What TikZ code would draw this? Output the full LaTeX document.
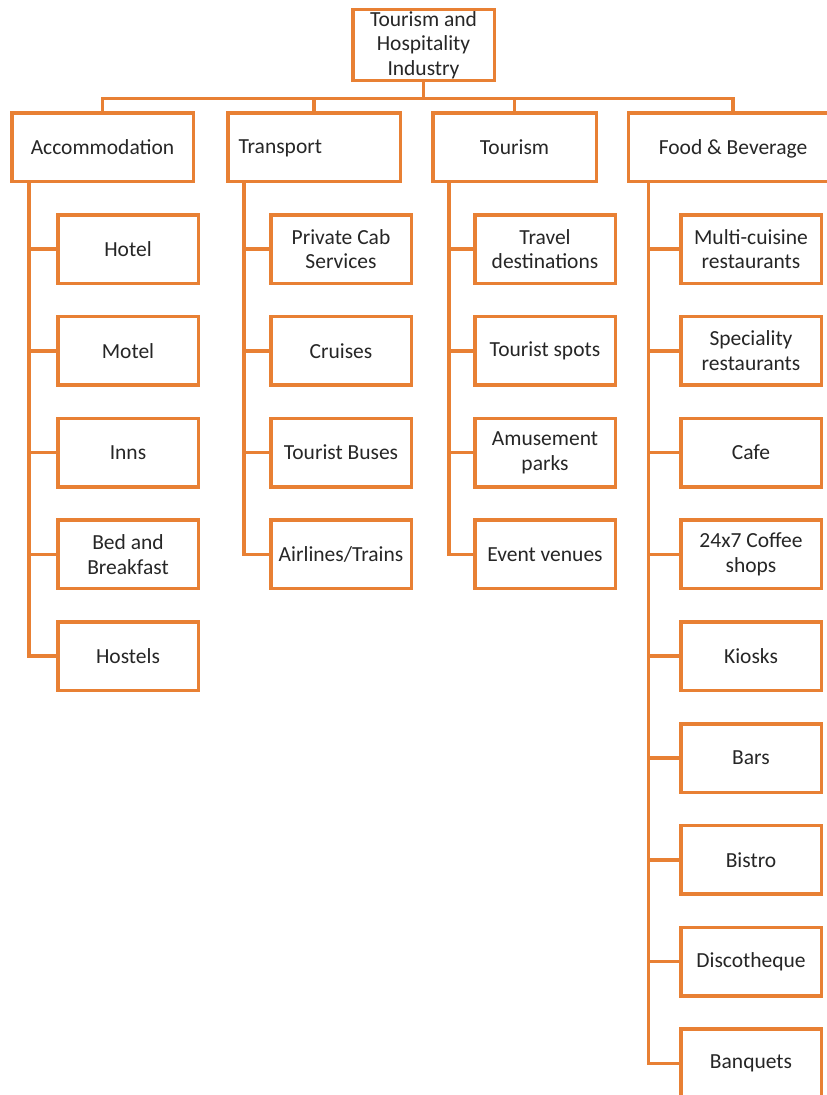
\documentclass[tikz,border=0pt]{standalone}
\usepackage{fontspec}
\setmainfont{Carlito}
\definecolor{boxorange}{RGB}{232,128,52}
\begin{document}
\begin{tikzpicture}[x=1pt,y=-1pt,
    box/.style={draw=boxorange,line width=3.5pt,fill=white,inner sep=2pt,align=center,
                font=\fontsize{21.5}{24.5}\selectfont,text=black!85},
    item/.style={box,minimum width=140.5pt,minimum height=68.5pt},
    link/.style={draw=boxorange,line width=3.5pt}]
\clip (0,0) rectangle (827,1095);
\useasboundingbox (0,0) rectangle (827,1095);
% top
\node[box,minimum width=141.5pt,minimum height=68.5pt] (root) at (423.5,45) {Tourism and\\Hospitality\\Industry};
\draw[link] (root.south) -- ++(0,16) coordinate (bus);
% sectors
\node[box,minimum width=181.5pt,minimum height=68.5pt] (acc) at (102.5,147) {Accommodation};
\node[box,minimum width=172.5pt,minimum height=68.5pt,
      label={[anchor=west,xshift=9pt,text depth=0pt,font=\fontsize{21.5}{24.5}\selectfont,text=black!85]west:Transport}] (trans) at (314,147) {};
\node[box,minimum width=163.5pt,minimum height=68.5pt] (tour) at (514.5,147) {Tourism};
\node[box,minimum width=209.5pt,minimum height=68.5pt,text depth=0pt] (food) at (733,147) {Food \& Beverage};
\foreach \s in {acc,trans,tour,food}
  \draw[link] (\s.north) |- (bus);
% Accommodation
\foreach \txt [count=\i] in {Hotel,Motel,Inns,{Bed and\\Breakfast},Hostels} {
  \node[item] (acc\i) at (128,{249+101.8*(\i-1)}) {\txt};
  \draw[link] ([xshift=19pt]acc.south west) |- (acc\i.west);
}
% Transport
\foreach \txt [count=\i] in {{Private Cab\\Services},Cruises,Tourist Buses,Airlines/Trains} {
  \node[item] (trans\i) at (341,{249+101.8*(\i-1)}) {\txt};
  \draw[link] ([xshift=18pt]trans.south west) |- (trans\i.west);
}
% Tourism
\foreach \txt [count=\i] in {{Travel\\destinations},Tourist spots,{Amusement\\parks},Event venues} {
  \node[item] (tour\i) at (545,{249+101.8*(\i-1)}) {\txt};
  \draw[link] ([xshift=18pt]tour.south west) |- (tour\i.west);
}
% Food & Beverage
\foreach \txt [count=\i] in {{Multi-cuisine\\restaurants},{Speciality\\restaurants},Cafe,{24x7 Coffee\\shops},Kiosks,Bars,Bistro,Discotheque,Banquets} {
  \node[item] (food\i) at (751,{249+101.8*(\i-1)}) {\txt};
  \draw[link] ([xshift=22pt]food.south west) |- (food\i.west);
}
\end{tikzpicture}
\end{document}
